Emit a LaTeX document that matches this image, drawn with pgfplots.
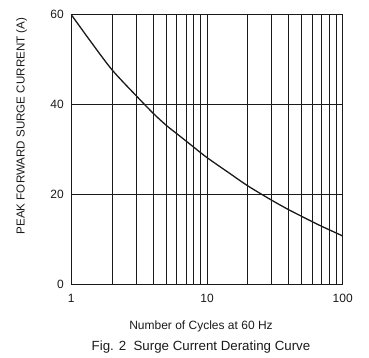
\documentclass[border=0pt]{standalone}
\usepackage{pgfplots}
\pgfplotsset{compat=1.18}
\usepackage{fontspec}
\setmainfont{Liberation Sans}
\definecolor{ink}{HTML}{1A1A1A}
\begin{document}
\begin{tikzpicture}[x=1pt,y=1pt]
\useasboundingbox (0,0) rectangle (369,358);
\begin{axis}[
  at={(71.3pt,73.7pt)}, anchor=south west,
  scale only axis, width=271.4pt, height=269.6pt,
  xmode=log, xmin=1, xmax=100, ymin=0, ymax=60,
  xtick={1,10,100}, xticklabels={1,10,100},
  minor xtick={2,3,4,5,6,7,8,9,20,30,40,50,60,70,80,90},
  ytick={0,20,40,60},
  grid=both,
  major grid style={ink, line width=0.9pt},
  minor grid style={ink, line width=0.9pt},
  axis line style={ink, line width=0.9pt},
  major tick length=0pt, minor tick length=0pt,
  tick label style={font=\fontsize{12}{14}\selectfont, text=ink},
  /pgf/number format/assume math mode=true,
  yticklabel style={xshift=-4pt},
  xticklabel style={yshift=-6.5pt},
]
\addplot[ink, line width=1.3pt, smooth] coordinates {
 (1,60) (1.4,53.9) (2,47.7) (3,42.0) (4,38.1) (5,35.4) (6,33.5) (7,31.9)
 (8,30.5) (10,28.2) (15,24.5) (20,21.9) (30,18.7) (40,16.6) (50,15.1)
 (60,13.9) (70,12.9) (80,12.1) (100,10.75)
};
\end{axis}
\node[text=ink, font=\fontsize{11.6}{13}\selectfont, rotate=90] at (21.7,232) {PEAK FORWARD SURGE CURRENT (A)};
\node[text=ink, font=\fontsize{12}{14}\selectfont] at (201,32) {Number of Cycles at 60 Hz};
\node[text=ink, font=\fontsize{13.3}{15}\selectfont] at (201,11.3) {Fig. 2\ \ Surge Current Derating Curve};
\end{tikzpicture}
\end{document}
